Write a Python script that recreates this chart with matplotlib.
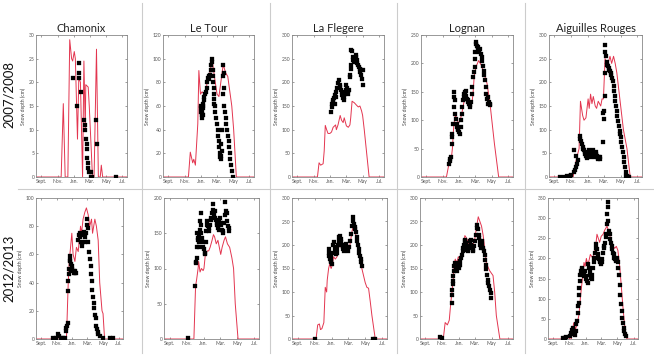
import matplotlib
matplotlib.use("Agg")
import matplotlib.pyplot as plt
from matplotlib.lines import Line2D

# ---------------- data (x = days since 1 Sept, y = snow depth cm) ----------------
stations = ["Chamonix", "Le Tour", "La Flegere", "Lognan", "Aiguilles Rouges"]
seasons = ["2007/2008", "2012/2013"]
month_ticks = [0, 61, 122, 181, 242, 303]
month_labels = ["Sept.", "Nov.", "Jan.", "Mar.", "May", "Jul."]

# ---- 2007/2008 ----
cham07_line_x = [-20, 74, 82, 89, 99, 106, 113, 117, 123, 127, 135, 140, 146, 150, 154, 159, 164, 166, 175, 179, 191, 197, 206, 213, 220, 224, 229, 320]
cham07_line_y = [0, 0, 15.5, 0, 0, 29, 25, 24.5, 26.5, 25, 8, 21, 20, 10, 0, 24.5, 10, 19.5, 19, 15, 0, 0, 27, 0, 0, 2.5, 0, 0]
cham07_pts_x = [120, 132, 140, 140, 140, 147, 160, 162, 164, 166, 169, 171, 172, 174, 176, 179, 184, 187, 190, 206, 208, 280]
cham07_pts_y = [21, 15, 24, 22, 21, 18, 12, 10, 11, 8, 7, 6, 4, 3, 2, 1, 1, 0, 0, 12, 7, 0]

letour07_line_x = [-20, 75, 82, 91, 95, 101, 110, 114, 120, 126, 135, 142, 146, 151, 154, 163, 174, 182, 189, 196, 205, 214, 222, 231, 237, 244, 254, 320]
letour07_line_y = [0, 0, 21, 12, 15, 10, 45, 90, 70, 72, 70, 73, 85, 82, 86, 100, 82, 70, 68, 80, 95, 88, 85, 70, 60, 40, 0, 0]
letour07_pts_x = [121, 122, 123, 124, 125, 126, 127, 128, 129, 130, 131, 133, 135, 138, 141, 143, 146, 148, 151, 153, 156, 158, 161, 162, 164, 165, 166, 167, 169, 170, 171, 172, 174, 176, 179, 181, 184, 186, 189, 191, 193, 194, 195, 196, 197, 199, 202, 203, 204, 205, 207, 208, 209, 212, 214, 217, 220, 222, 225, 227, 230, 232, 235, 237, 240]
letour07_pts_y = [60, 58, 55, 52, 50, 53, 56, 60, 62, 58, 52, 65, 68, 70, 72, 75, 80, 84, 85, 83, 86, 90, 95, 100, 97, 90, 85, 80, 75, 70, 66, 62, 60, 55, 50, 45, 40, 35, 30, 25, 20, 17, 15, 18, 28, 22, 40, 70, 85, 95, 88, 75, 60, 55, 50, 45, 40, 35, 30, 25, 20, 15, 10, 5, 0]

flegere07_line_x = [-20, 74, 80, 86, 95, 99, 103, 108, 113, 120, 126, 132, 141, 144, 150, 158, 163, 169, 173, 181, 188, 194, 197, 202, 210, 218, 225, 231, 237, 241, 247, 256, 265, 320]
flegere07_line_y = [0, 0, 30, 25, 28, 55, 109, 100, 92, 92, 95, 105, 110, 100, 110, 130, 120, 115, 125, 108, 105, 110, 125, 160, 157, 152, 148, 150, 140, 130, 100, 50, 0, 0]
flegere07_pts_x = [123, 126, 129, 132, 133, 135, 138, 140, 141, 144, 148, 151, 153, 156, 158, 161, 163, 166, 168, 171, 173, 176, 178, 181, 183, 186, 188, 190, 194, 196, 197, 198, 199, 202, 205, 207, 210, 212, 215, 217, 220, 222, 225, 227, 230, 232, 234, 236, 238, 241, 243]
flegere07_pts_y = [138, 148, 155, 162, 159, 166, 173, 155, 170, 180, 187, 198, 205, 194, 190, 183, 180, 173, 166, 162, 170, 176, 183, 194, 187, 182, 176, 183, 212, 215, 229, 236, 268, 267, 254, 247, 243, 250, 258, 254, 247, 240, 236, 233, 229, 222, 226, 215, 208, 194, 226]

lognan07_line_x = [-20, 74, 86, 91, 96, 101, 104, 108, 113, 119, 125, 132, 138, 145, 150, 158, 162, 168, 172, 177, 184, 193, 199, 205, 214, 224, 236, 251, 267, 320]
lognan07_line_y = [0, 0, 30, 28, 50, 90, 100, 110, 100, 95, 100, 115, 130, 145, 140, 135, 125, 130, 145, 180, 195, 205, 200, 195, 180, 165, 125, 60, 0, 0]
lognan07_pts_x = [83, 86, 88, 91, 93, 95, 96, 98, 101, 102, 103, 104, 107, 109, 112, 113, 116, 118, 121, 123, 126, 128, 131, 133, 136, 138, 140, 143, 145, 148, 150, 153, 155, 157, 160, 162, 165, 167, 170, 172, 175, 178, 179, 181, 182, 184, 186, 189, 191, 194, 196, 199, 201, 204, 206, 209, 211, 214, 216, 219, 221, 224, 226, 229, 231, 234, 236]
lognan07_pts_y = [23, 32, 29, 35, 58, 70, 76, 94, 123, 140, 149, 135, 111, 102, 94, 88, 85, 82, 79, 76, 88, 100, 111, 123, 135, 140, 146, 149, 152, 143, 138, 132, 135, 129, 126, 123, 132, 146, 158, 176, 184, 193, 208, 220, 234, 237, 231, 228, 225, 222, 220, 225, 217, 211, 205, 196, 187, 179, 170, 158, 146, 138, 129, 140, 132, 126, 128]

aig07_line_x = [-20, 68, 74, 81, 90, 95, 103, 108, 115, 123, 127, 132, 137, 142, 149, 154, 160, 169, 174, 179, 185, 191, 198, 203, 209, 216, 222, 228, 240, 252, 265, 277, 320]
aig07_line_y = [0, 0, 20, 40, 60, 160, 130, 120, 125, 165, 145, 175, 155, 170, 150, 145, 160, 150, 165, 165, 250, 240, 245, 255, 240, 255, 240, 220, 160, 100, 60, 0, 0]
aig07_pts_x = [20, 35, 45, 55, 62, 70, 71, 74, 78, 80, 83, 85, 93, 95, 98, 100, 103, 105, 108, 110, 113, 115, 118, 120, 123, 125, 128, 130, 132, 135, 137, 140, 142, 145, 147, 150, 152, 154, 157, 159, 162, 164, 166, 168, 176, 179, 180, 181, 183, 184, 185, 186, 188, 191, 193, 196, 198, 201, 203, 206, 208, 211, 213, 216, 218, 221, 223, 226, 228, 230, 233, 235, 238, 240, 243, 245, 248, 250, 253, 255, 258, 260, 263, 265, 268, 270, 272]
aig07_pts_y = [1, 1, 2, 2, 4, 10, 57, 14, 45, 21, 28, 35, 80, 87, 77, 70, 63, 59, 56, 52, 49, 45, 42, 40, 49, 56, 52, 49, 42, 45, 52, 56, 49, 45, 42, 49, 52, 45, 42, 38, 42, 40, 38, 42, 73, 136, 140, 122, 171, 220, 265, 279, 255, 244, 237, 234, 230, 227, 223, 220, 216, 209, 202, 192, 181, 171, 160, 150, 140, 129, 119, 108, 98, 91, 84, 73, 63, 52, 42, 31, 21, 10, 3, 2, 1, 1, 0]

# ---- 2012/2013 ----
cham12_line_x = [-20, 99, 106, 110, 120, 125, 132, 138, 145, 149, 154, 158, 164, 171, 177, 184, 190, 197, 201, 210, 216, 223, 229, 238, 242, 248, 320]
cham12_line_y = [0, 0, 40, 55, 75, 60, 55, 65, 62, 70, 80, 75, 85, 90, 93, 88, 80, 85, 75, 85, 80, 70, 40, 20, 18, 0, 0]
cham12_pts_x = [47, 60, 67, 71, 76, 86, 93, 97, 99, 102, 104, 106, 107, 108, 110, 111, 112, 114, 115, 116, 119, 121, 124, 127, 129, 132, 134, 137, 145, 147, 150, 152, 155, 158, 160, 163, 166, 168, 171, 173, 176, 178, 180, 182, 185, 188, 190, 193, 195, 198, 200, 203, 206, 208, 211, 213, 216, 219, 221, 224, 229, 242, 268, 281]
cham12_pts_y = [0.7, 0.7, 3.5, 2, 1, 0.7, 0.7, 5.4, 8, 9, 11, 34, 41, 46, 50, 56, 59, 55, 53, 49, 51.5, 50, 48, 47, 48, 47, 48, 47, 70, 74, 75, 72, 69, 66, 68, 74, 75, 76, 72, 69, 75, 81, 85, 79, 69, 62, 57, 51.5, 46, 41, 35, 30, 25.5, 22, 17, 15, 9, 7, 5, 3.5, 2, 1, 1, 0.7]

letour12_line_x = [-20, 66, 68, 70, 87, 93, 97, 102, 104, 109, 114, 120, 123, 128, 135, 140, 145, 152, 157, 161, 167, 173, 179, 183, 188, 195, 200, 207, 215, 223, 229, 235, 245, 320]
letour12_line_y = [0, 0, 3, 0, 0, 75, 85, 100, 110, 95, 100, 97, 100, 120, 125, 125, 130, 140, 148, 145, 135, 140, 128, 120, 130, 140, 145, 135, 130, 115, 100, 50, 0, 0]
letour12_pts_x = [92, 94, 95, 97, 98, 99, 101, 102, 104, 106, 107, 109, 110, 111, 112, 114, 116, 118, 121, 123, 126, 128, 129, 130, 133, 135, 138, 140, 142, 145, 147, 149, 152, 154, 157, 159, 161, 164, 166, 169, 171, 173, 176, 178, 180, 183, 185, 188, 190, 192, 195, 197, 200, 202, 204, 207, 209, 211, 214, 65]
letour12_pts_y = [75, 108, 109, 115, 131, 150, 141, 143, 138, 131, 148, 155, 167, 179, 162, 150, 143, 138, 131, 127, 122, 120, 138, 153, 162, 167, 160, 157, 153, 162, 169, 172, 179, 183, 191, 176, 181, 172, 169, 165, 162, 157, 155, 167, 172, 165, 162, 155, 153, 150, 165, 176, 195, 181, 179, 167, 160, 157, 153, 2]

flegere12_line_x = [-20, 66, 72, 78, 82, 87, 94, 99, 104, 106, 111, 115, 120, 123, 129, 135, 141, 147, 153, 159, 165, 171, 177, 183, 190, 195, 200, 204, 209, 216, 224, 230, 242, 248, 254, 260, 266, 278, 320]
flegere12_line_y = [0, 0, 30, 32, 20, 22, 35, 110, 100, 125, 150, 160, 150, 155, 175, 170, 175, 195, 200, 190, 185, 195, 185, 185, 210, 230, 240, 230, 220, 200, 170, 150, 120, 110, 108, 80, 50, 0, 0]
flegere12_pts_x = [64, 111, 113, 114, 116, 117, 118, 120, 121, 123, 125, 128, 130, 133, 135, 137, 140, 142, 145, 147, 149, 152, 154, 156, 159, 161, 164, 166, 168, 171, 173, 176, 178, 180, 183, 189, 192, 195, 197, 200, 202, 204, 207, 209, 211, 214, 216, 218, 221, 223, 226, 228, 231, 269, 278]
flegere12_pts_y = [1, 191, 184, 177, 170, 181, 174, 167, 163, 160, 184, 199, 206, 195, 188, 181, 184, 191, 199, 209, 216, 220, 213, 206, 199, 195, 191, 188, 191, 199, 202, 195, 191, 188, 195, 209, 223, 241, 259, 252, 245, 238, 234, 227, 216, 209, 199, 191, 184, 177, 170, 163, 156, 1, 1]

lognan12_line_x = [-20, 65, 72, 80, 87, 93, 97, 102, 105, 109, 114, 120, 126, 132, 138, 144, 150, 156, 162, 168, 174, 181, 187, 193, 199, 205, 211, 217, 223, 235, 247, 253, 259, 272, 320]
lognan12_line_y = [0, 0, 35, 30, 40, 80, 100, 130, 160, 170, 160, 175, 170, 185, 195, 220, 215, 205, 200, 195, 200, 215, 240, 260, 250, 240, 220, 190, 160, 145, 135, 100, 50, 0, 0]
lognan12_pts_x = [53, 59, 96, 97, 98, 99, 100, 102, 104, 106, 109, 111, 114, 116, 119, 121, 123, 126, 128, 131, 133, 136, 138, 140, 143, 145, 148, 150, 153, 155, 157, 160, 162, 165, 167, 170, 172, 174, 177, 182, 184, 187, 189, 191, 194, 196, 199, 201, 204, 206, 208, 211, 213, 216, 218, 221, 223, 225, 228, 230, 233, 235, 239, 241]
lognan12_pts_y = [3.5, 2, 77, 94, 105, 116, 123, 133, 144, 155, 162, 151, 144, 155, 162, 155, 151, 158, 165, 172, 179, 187, 194, 201, 208, 211, 204, 197, 190, 187, 190, 197, 208, 211, 201, 194, 187, 190, 197, 208, 222, 236, 243, 233, 222, 215, 208, 201, 194, 208, 201, 194, 187, 179, 169, 158, 148, 137, 126, 119, 112, 105, 98, 87]

aig12_line_x = [-20, 43, 50, 56, 62, 68, 77, 84, 89, 97, 102, 110, 116, 120, 125, 130, 135, 140, 145, 150, 160, 165, 170, 175, 181, 188, 194, 203, 208, 213, 219, 225, 232, 238, 244, 251, 257, 263, 270, 278, 320]
aig12_line_y = [0, 0, 0, 5, 0, 0, 40, 25, 35, 60, 100, 150, 190, 180, 200, 185, 195, 210, 205, 200, 230, 260, 250, 240, 255, 260, 270, 280, 270, 260, 235, 230, 225, 230, 220, 180, 130, 80, 30, 0, 0]
aig12_pts_x = [37, 43, 49, 62, 68, 72, 74, 77, 80, 82, 84, 87, 90, 92, 95, 96, 97, 98, 100, 102, 105, 107, 110, 112, 115, 117, 120, 122, 125, 127, 130, 132, 135, 137, 140, 142, 145, 148, 150, 153, 155, 158, 160, 163, 165, 168, 170, 173, 175, 178, 180, 183, 185, 188, 190, 193, 195, 198, 200, 203, 204, 205, 207, 208, 210, 213, 215, 218, 221, 223, 226, 228, 231, 233, 236, 238, 241, 243, 246, 248, 251, 253, 256, 258, 261, 263, 266, 268, 271, 273]
aig12_pts_y = [2.5, 2.5, 4, 6.6, 15, 23, 27, 19, 12, 11, 19, 36, 44, 65, 81, 90, 110, 127, 144, 160, 169, 177, 173, 165, 156, 160, 169, 156, 148, 144, 140, 185, 177, 169, 160, 152, 148, 160, 177, 190, 202, 214, 227, 235, 223, 210, 202, 198, 194, 190, 185, 192, 198, 214, 227, 231, 239, 252, 260, 285, 310, 327, 339, 293, 269, 260, 248, 239, 231, 223, 214, 210, 202, 198, 194, 198, 202, 190, 177, 160, 135, 110, 86, 69, 52, 40, 27, 19, 12, 6.6]

ylims = [[30, 120, 300, 250, 300], [100, 200, 300, 300, 350]]
ysteps = [[5, 20, 50, 50, 50], [20, 50, 50, 50, 50]]

panels = [
    [(cham07_line_x, cham07_line_y, cham07_pts_x, cham07_pts_y),
     (letour07_line_x, letour07_line_y, letour07_pts_x, letour07_pts_y),
     (flegere07_line_x, flegere07_line_y, flegere07_pts_x, flegere07_pts_y),
     (lognan07_line_x, lognan07_line_y, lognan07_pts_x, lognan07_pts_y),
     (aig07_line_x, aig07_line_y, aig07_pts_x, aig07_pts_y)],
    [(cham12_line_x, cham12_line_y, cham12_pts_x, cham12_pts_y),
     (letour12_line_x, letour12_line_y, letour12_pts_x, letour12_pts_y),
     (flegere12_line_x, flegere12_line_y, flegere12_pts_x, flegere12_pts_y),
     (lognan12_line_x, lognan12_line_y, lognan12_pts_x, lognan12_pts_y),
     (aig12_line_x, aig12_line_y, aig12_pts_x, aig12_pts_y)],
]

# ---------------- layout (pixels) ----------------
W, H = 654, 356
row_tb = [(35, 177), (198, 339)]
col_lr = [[(36, 127), (163, 254), (292, 384), (421, 513), (549, 642)],
          [(36, 123), (164, 259), (292, 387), (420, 513), (548, 638)]]

plt.rcParams['font.family'] = ['Lato', 'DejaVu Sans']
fig = plt.figure(figsize=(W / 100, H / 100), dpi=100)
fig.patch.set_facecolor('white')

red = '#e3354f'
for r in range(2):
    top, bot = row_tb[r]
    for c in range(5):
        l, rr = col_lr[r][c]
        ax = fig.add_axes([l / W, 1 - bot / H, (rr - l) / W, (bot - top) / H])
        lx, ly, px, py = panels[r][c]
        ax.plot(lx, ly, color=red, lw=0.7, zorder=2)
        ax.plot(px, py, 's', color='black', ms=2.2, mec='black', mew=0.2, zorder=3)
        ax.set_xlim(-20, 320)
        ax.set_ylim(0, ylims[r][c])
        ax.set_yticks(list(range(0, ylims[r][c] + 1, ysteps[r][c])))
        ax.set_xticks(month_ticks)
        ax.set_xticklabels(month_labels)
        ax.tick_params(labelsize=3.6, length=1.5, width=0.4, direction='in',
                       top=True, right=True, pad=1.2, colors='#555555')
        ax.set_ylabel('Snow depth (cm)', fontsize=3.6, labelpad=2, color='#444444')
        for s in ax.spines.values():
            s.set_color('#888888')
            s.set_linewidth(0.6)
        if r == 0:
            ax.set_title(stations[c], fontsize=8, pad=2.5, color='#222222')

# row labels
fig.text(9 / W, 1 - 95 / H, seasons[0], rotation=90, ha='center', va='center', fontsize=9.5, color='#111111')
fig.text(9 / W, 1 - 268 / H, seasons[1], rotation=90, ha='center', va='center', fontsize=9.5, color='#111111')

# separator lines
sep = '#cccccc'
for x in [142, 270, 397, 525]:
    fig.add_artist(Line2D([x / W, x / W], [1 - 3 / H, 1 - 353 / H], color=sep, lw=0.8))
fig.add_artist(Line2D([18 / W, 654 / W], [1 - 189 / H, 1 - 189 / H], color=sep, lw=0.8))

fig.savefig('out.png', dpi=100, facecolor='white')
